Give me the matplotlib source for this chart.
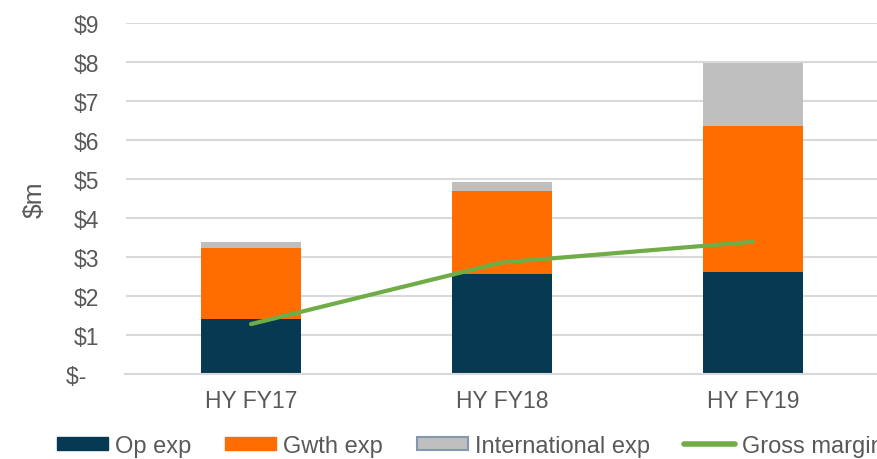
import numpy as np
import matplotlib
matplotlib.use("Agg")
import matplotlib.pyplot as plt
from matplotlib.patches import Patch
from matplotlib.lines import Line2D

plt.rcParams['font.family'] = ['Liberation Sans', 'DejaVu Sans']

periods = ["HY FY17", "HY FY18", "HY FY19"]
op_exp = [1.40, 2.57, 2.62]
gwth_exp = [1.83, 2.13, 3.73]
intl_exp = [0.16, 0.22, 1.63]
gross_margin = [1.28, 2.86, 3.39]

c_op = "#063a53"
c_gwth = "#ff6d01"
c_intl = "#bfbfbf"
c_gm = "#70ad47"
txt = "#595959"
fs = 16.5

fig = plt.figure(figsize=(8.77, 4.60), dpi=100)
ax = fig.add_axes([125.5 / 877, 1 - 375 / 460, 753 / 877, 351 / 460])

x = np.arange(len(periods))
w = 0.4
op = np.array(op_exp)
gw = np.array(gwth_exp)
it = np.array(intl_exp)
ax.bar(x, op, w, color=c_op, zorder=2)
ax.bar(x, gw, w, bottom=op, color=c_gwth, zorder=2)
ax.bar(x, it, w, bottom=op + gw, color=c_intl, zorder=2)
ax.plot(x, gross_margin, color=c_gm, lw=3, solid_capstyle='round', zorder=3)

ax.set_xlim(-0.5, 2.5)
ax.set_ylim(0, 9)
yt = np.arange(0, 10)
ax.set_yticks(yt)
ax.set_yticklabels(["$-  "] + ["$%d" % v for v in yt[1:]])
ax.set_xticks(x)
ax.set_xticklabels(periods)
ax.tick_params(axis='y', length=0, pad=19, labelsize=fs, labelcolor=txt)
ax.tick_params(axis='x', length=0, pad=11, labelsize=fs, labelcolor=txt)
ax.grid(axis='y', color="#d9d9d9", lw=1.5, zorder=0)
for s in ["top", "right", "left"]:
    ax.spines[s].set_visible(False)
ax.spines["bottom"].set_color("#d9d9d9")
ax.spines["bottom"].set_linewidth(1.5)
ax.set_ylabel("$m", fontsize=19, color=txt)
ax.yaxis.set_label_coords(-(125.5 - 47) / 753, 0.5)

handles = [
    Patch(facecolor=c_op, edgecolor=c_op),
    Patch(facecolor=c_gwth, edgecolor=c_gwth),
    Patch(facecolor=c_intl, edgecolor="#8497b0", lw=1.5),
    Line2D([0], [0], color=c_gm, lw=4, solid_capstyle='round'),
]
labels = ["Op exp", "Gwth exp", "International exp", "Gross margin"]
fig.legend(handles, labels, loc='center left', bbox_to_anchor=(57 / 877, 1 - 447 / 460),
           ncol=4, frameon=False, fontsize=17, labelcolor=txt,
           handlelength=2.15, handleheight=0.5, handletextpad=0.3,
           columnspacing=1.45, borderpad=0, borderaxespad=0)

fig.savefig("out.png", dpi=100)
